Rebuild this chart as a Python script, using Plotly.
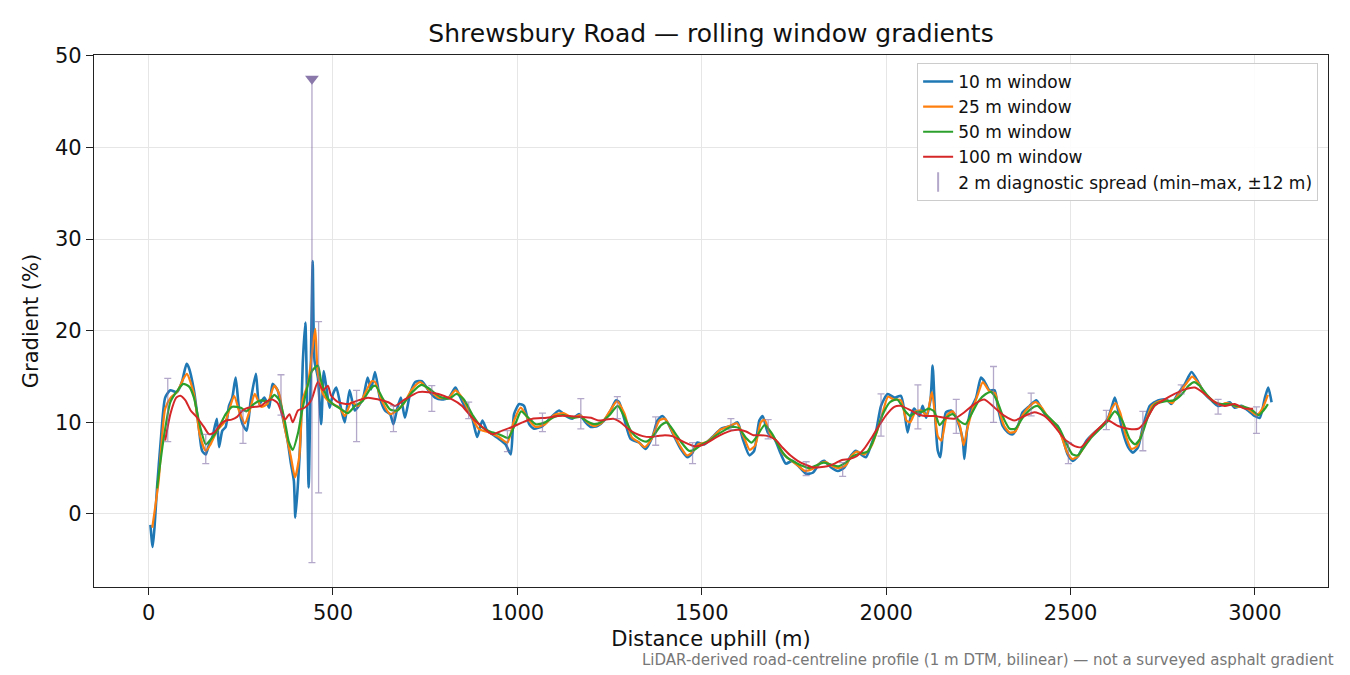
import plotly.graph_objects as go

# 10 m window (distance m, gradient %)
dist_10 = [5, 11, 16, 23, 33, 45, 59, 77, 91, 103, 109, 123, 136, 145, 155, 164, 173, 185, 191, 200,
           209, 218, 227, 236, 245, 255, 266, 277, 291, 300, 314, 327, 336, 350, 364, 377, 386, 394, 398, 405,
           412, 418, 425, 429, 434, 439, 445, 450, 459, 468, 475, 482, 491, 500, 509, 523, 532, 545, 559, 573,
           582, 594, 603, 614, 627, 641, 655, 664, 673, 684, 695, 709, 723, 741, 759, 777, 795, 814, 832, 841,
           859, 877, 891, 905, 918, 932, 950, 968, 982, 991, 1005, 1018, 1032, 1045, 1068, 1090, 1113, 1131, 1149, 1167,
           1185, 1199, 1217, 1235, 1253, 1267, 1276, 1289, 1307, 1330, 1348, 1366, 1380, 1393, 1407, 1425, 1443, 1461, 1475, 1488,
           1506, 1529, 1552, 1579, 1597, 1611, 1629, 1642, 1656, 1665, 1679, 1697, 1715, 1728, 1746, 1765, 1783, 1801, 1819, 1832,
           1850, 1869, 1887, 1905, 1918, 1932, 1945, 1959, 1973, 1986, 2004, 2022, 2040, 2049, 2058, 2067, 2076, 2090, 2099, 2108,
           2120, 2126, 2133, 2140, 2147, 2153, 2162, 2176, 2185, 2199, 2208, 2212, 2219, 2230, 2244, 2257, 2266, 2280, 2294, 2303,
           2316, 2330, 2343, 2357, 2370, 2389, 2407, 2420, 2434, 2452, 2465, 2479, 2492, 2506, 2520, 2543, 2565, 2583, 2601, 2611,
           2620, 2629, 2642, 2656, 2669, 2683, 2696, 2715, 2737, 2760, 2773, 2791, 2810, 2828, 2846, 2864, 2882, 2900, 2918, 2932,
           2945, 2963, 2981, 2999, 3013, 3027, 3036, 3045]
grad_10 = [-1.2, -3.6, -1.5, 2.9, 8.0, 12.7, 13.5, 13.3, 14.5, 16.4, 16.0, 13.5, 9.5, 6.9, 6.5, 7.6, 8.4, 10.4, 7.3, 9.1,
           9.5, 11.8, 12.7, 14.9, 11.6, 9.8, 9.1, 12.4, 15.3, 12.0, 12.7, 11.6, 14.2, 13.5, 10.5, 8.0, 5.5, 3.6, -0.4, 3.3,
           8.4, 16.4, 20.9, 14.2, 2.9, 13.5, 27.6, 16.7, 14.9, 9.8, 15.6, 13.8, 11.6, 13.1, 13.8, 11.3, 10.0, 13.5, 11.3, 12.0,
           12.7, 14.9, 13.6, 15.5, 12.7, 11.3, 10.9, 9.8, 11.3, 12.7, 10.5, 13.1, 14.4, 14.5, 13.5, 12.7, 12.5, 12.7, 13.8, 13.1,
           11.6, 10.5, 8.4, 10.2, 9.1, 8.7, 8.2, 7.6, 6.5, 10.9, 12.0, 11.8, 9.8, 9.3, 9.6, 10.5, 11.3, 10.7, 10.4, 10.9,
           10.0, 9.5, 9.6, 10.2, 11.3, 12.4, 12.2, 10.5, 8.2, 7.8, 7.1, 8.4, 10.2, 10.7, 10.0, 8.5, 7.1, 6.2, 6.7, 7.8,
           7.6, 8.4, 9.3, 9.6, 10.0, 8.2, 6.4, 6.9, 10.2, 10.7, 8.9, 8.2, 6.5, 5.5, 5.8, 5.1, 4.4, 4.5, 5.5, 5.8,
           5.1, 4.7, 5.1, 6.4, 6.9, 6.5, 6.2, 7.5, 9.1, 11.8, 13.1, 12.7, 12.9, 11.3, 8.9, 10.7, 11.5, 10.7, 11.8, 10.5,
           12.4, 16.2, 10.5, 6.9, 6.2, 8.7, 11.1, 11.3, 10.9, 9.5, 8.0, 6.0, 9.1, 11.5, 12.7, 14.9, 14.5, 13.5, 13.5, 11.6,
           9.6, 8.9, 8.7, 9.6, 11.1, 11.8, 12.4, 11.6, 10.7, 10.0, 9.6, 8.2, 6.5, 5.8, 6.3, 8.0, 8.9, 9.5, 10.4, 11.6,
           12.7, 11.3, 8.9, 7.3, 6.7, 7.3, 9.5, 11.8, 12.4, 12.5, 12.0, 13.1, 14.2, 15.5, 14.4, 13.1, 12.4, 11.8, 12.0, 12.2,
           11.6, 11.8, 11.3, 10.7, 10.5, 12.7, 13.8, 12.2]

# 25 m window
dist_25 = [10, 27, 45, 60, 77, 95, 104, 123, 139, 155, 168, 186, 209, 232, 245, 261, 275, 288, 305, 322,
           341, 355, 368, 386, 397, 409, 418, 432, 445, 452, 459, 473, 486, 500, 518, 532, 550, 568, 586, 605,
           614, 632, 655, 673, 691, 714, 736, 759, 786, 814, 832, 850, 877, 895, 923, 950, 973, 991, 1009, 1032,
           1050, 1075, 1100, 1125, 1150, 1170, 1190, 1210, 1230, 1250, 1270, 1290, 1310, 1330, 1345, 1365, 1385, 1400, 1420, 1440,
           1460, 1475, 1490, 1510, 1530, 1550, 1575, 1595, 1615, 1630, 1645, 1660, 1670, 1685, 1700, 1720, 1740, 1760, 1780, 1800,
           1820, 1835, 1855, 1870, 1890, 1905, 1920, 1940, 1960, 1975, 1990, 2005, 2020, 2040, 2055, 2065, 2080, 2095, 2110, 2124,
           2140, 2150, 2165, 2180, 2200, 2210, 2220, 2235, 2250, 2262, 2280, 2295, 2305, 2320, 2335, 2350, 2370, 2390, 2405, 2420,
           2440, 2460, 2475, 2490, 2505, 2520, 2535, 2555, 2580, 2600, 2612, 2622, 2635, 2650, 2665, 2680, 2700, 2720, 2740, 2760,
           2775, 2795, 2815, 2830, 2848, 2865, 2885, 2905, 2920, 2935, 2950, 2970, 2990, 3005, 3020, 3035]
grad_25 = [-1.5, 3.5, 11.5, 12.7, 13.3, 14.8, 15.3, 13.1, 8.6, 6.9, 7.6, 9.1, 10.2, 12.9, 11.3, 9.9, 11.4, 13.1, 11.7, 12.0,
           14.0, 13.0, 9.7, 6.2, 4.0, 6.4, 12.5, 14.2, 18.2, 20.2, 15.3, 13.1, 12.4, 12.0, 11.6, 10.7, 12.2, 11.8, 13.1, 14.5,
           14.4, 12.4, 10.9, 11.3, 12.0, 13.6, 14.4, 13.6, 12.7, 12.7, 13.5, 12.7, 10.5, 9.3, 8.9, 8.4, 7.8, 10.2, 11.6, 10.2,
           9.5, 9.8, 10.8, 11.0, 10.5, 10.8, 10.0, 9.6, 10.0, 11.2, 12.3, 11.0, 8.4, 7.8, 7.3, 8.3, 10.2, 10.4, 9.0, 7.5,
           6.4, 6.8, 7.6, 7.8, 8.4, 9.2, 9.6, 9.9, 8.3, 7.0, 7.5, 10.0, 10.3, 8.8, 8.1, 6.6, 5.9, 5.3, 4.7, 4.9,
           5.5, 5.7, 5.2, 5.0, 5.3, 6.3, 6.8, 6.5, 7.4, 9.0, 11.0, 12.8, 12.5, 12.4, 10.2, 10.0, 11.2, 11.3, 10.8, 13.3,
           8.5, 8.0, 10.8, 11.2, 9.6, 7.5, 9.3, 11.5, 13.2, 14.4, 13.4, 13.2, 11.5, 9.6, 8.9, 9.0, 10.8, 11.8, 12.2, 11.7,
           10.5, 9.8, 8.5, 6.8, 6.0, 6.3, 7.2, 8.5, 9.4, 10.3, 11.5, 12.1, 11.0, 8.5, 7.1, 7.4, 9.6, 11.8, 12.3, 12.4,
           12.1, 13.2, 14.3, 15.0, 14.2, 13.1, 12.4, 11.9, 12.1, 12.0, 11.7, 11.7, 11.2, 10.8, 11.5, 13.0]

# 50 m window
dist_50 = [23, 40, 59, 77, 94, 110, 123, 140, 155, 170, 190, 209, 227, 250, 265, 285, 305, 325, 341, 355,
           370, 380, 391, 405, 415, 432, 443, 459, 468, 486, 500, 520, 540, 560, 580, 600, 615, 635, 655, 675,
           690, 715, 740, 760, 790, 815, 835, 855, 880, 900, 925, 950, 975, 995, 1010, 1030, 1050, 1075, 1100, 1125,
           1150, 1170, 1190, 1210, 1230, 1250, 1272, 1290, 1310, 1330, 1350, 1370, 1390, 1405, 1425, 1445, 1465, 1480, 1500, 1520,
           1540, 1560, 1580, 1600, 1620, 1635, 1650, 1670, 1690, 1710, 1730, 1750, 1770, 1790, 1810, 1830, 1850, 1870, 1890, 1910,
           1930, 1950, 1970, 1990, 2010, 2030, 2050, 2065, 2080, 2100, 2115, 2130, 2145, 2160, 2180, 2200, 2215, 2230, 2250, 2270,
           2285, 2300, 2320, 2335, 2350, 2370, 2390, 2410, 2430, 2450, 2470, 2490, 2505, 2520, 2535, 2555, 2580, 2600, 2620, 2640,
           2660, 2675, 2690, 2710, 2730, 2755, 2780, 2800, 2820, 2835, 2850, 2870, 2890, 2910, 2930, 2950, 2970, 2990, 3010, 3025,
           3035]
grad_50 = [2.8, 8.0, 12.2, 13.4, 14.2, 13.9, 12.7, 9.5, 7.6, 8.2, 9.4, 10.9, 11.7, 11.6, 11.2, 12.0, 12.4, 12.3, 13.0, 12.4,
           10.0, 7.9, 7.0, 8.8, 11.0, 14.1, 15.6, 16.2, 14.5, 12.6, 12.0, 11.5, 11.0, 11.8, 12.3, 13.6, 14.0, 12.6, 11.4, 11.3,
           12.0, 13.3, 14.1, 13.7, 12.8, 12.6, 13.1, 12.5, 10.7, 9.6, 9.0, 8.7, 8.3, 9.9, 11.2, 10.5, 9.8, 10.0, 10.6, 10.8,
           10.5, 10.6, 10.1, 9.8, 10.1, 10.8, 11.8, 10.6, 8.9, 8.2, 7.9, 8.6, 9.7, 10.0, 9.0, 7.8, 6.9, 7.0, 7.6, 8.0,
           8.6, 9.1, 9.5, 9.4, 8.3, 7.8, 8.5, 9.7, 8.8, 7.3, 6.2, 5.7, 5.3, 5.0, 5.3, 5.6, 5.4, 5.2, 5.6, 6.3,
           6.6, 6.8, 8.5, 10.8, 12.2, 12.5, 11.3, 10.7, 11.1, 11.2, 11.5, 11.2, 9.7, 10.4, 10.9, 10.1, 9.8, 10.8, 12.3, 13.1,
           13.3, 12.4, 10.3, 9.3, 9.3, 10.5, 11.4, 11.8, 11.0, 10.2, 9.3, 7.6, 6.5, 6.4, 7.2, 8.3, 9.3, 10.1, 11.2, 10.2,
           8.2, 7.6, 8.3, 10.6, 12.0, 12.3, 12.4, 13.0, 14.0, 14.4, 14.0, 13.0, 12.2, 12.0, 12.0, 11.8, 11.7, 11.4, 10.8, 11.4,
           12.0]

# 100 m window
dist_100 = [45, 59, 75, 86, 100, 114, 130, 150, 164, 178, 195, 210, 225, 240, 255, 270, 290, 305, 320, 335,
            350, 362, 370, 382, 391, 405, 423, 441, 459, 473, 486, 495, 514, 541, 568, 595, 623, 650, 668, 695,
            732, 759, 786, 823, 850, 877, 905, 932, 959, 986, 1014, 1041, 1080, 1110, 1140, 1170, 1200, 1220, 1240, 1260,
            1280, 1300, 1320, 1340, 1360, 1380, 1400, 1420, 1440, 1460, 1480, 1500, 1520, 1540, 1560, 1580, 1600, 1620, 1640, 1660,
            1680, 1700, 1720, 1740, 1760, 1780, 1800, 1820, 1840, 1860, 1880, 1900, 1920, 1940, 1960, 1980, 2000, 2022, 2040, 2067,
            2085, 2104, 2131, 2158, 2185, 2212, 2239, 2266, 2294, 2321, 2348, 2375, 2402, 2429, 2456, 2483, 2511, 2529, 2556, 2583,
            2601, 2629, 2656, 2683, 2701, 2728, 2755, 2782, 2810, 2837, 2864, 2891, 2918, 2945, 2972, 2995]
grad_100 = [8.0, 10.9, 12.7, 12.9, 12.4, 11.3, 10.6, 9.5, 8.7, 8.9, 9.8, 10.2, 10.3, 10.6, 11.3, 11.6, 11.7, 11.8, 12.3, 12.5,
            12.1, 10.9, 10.3, 10.9, 10.0, 11.3, 11.6, 12.4, 14.4, 13.5, 14.0, 12.9, 12.2, 12.0, 12.4, 12.7, 12.5, 12.2, 11.8, 12.5,
            13.3, 13.3, 13.1, 12.5, 11.8, 10.5, 9.5, 8.7, 9.1, 9.5, 10.0, 10.4, 10.5, 10.7, 10.7, 10.6, 10.5, 10.2, 10.3, 10.4,
            10.0, 9.3, 8.8, 8.5, 8.4, 8.5, 8.6, 8.5, 8.1, 7.7, 7.4, 7.5, 7.9, 8.4, 8.8, 9.1, 9.2, 9.0, 8.6, 8.6,
            8.5, 8.1, 7.2, 6.4, 5.8, 5.4, 5.1, 5.1, 5.2, 5.5, 5.9, 6.0, 6.3, 7.1, 8.3, 9.6, 10.8, 11.7, 11.8, 11.3,
            10.9, 10.7, 10.7, 10.5, 10.4, 11.1, 12.0, 12.5, 11.6, 10.7, 10.2, 10.7, 11.1, 10.7, 9.6, 8.2, 7.4, 7.3, 8.5, 9.6,
            10.2, 9.6, 9.3, 9.3, 10.0, 11.8, 12.5, 13.1, 13.6, 13.8, 13.1, 12.2, 11.8, 12.0, 11.5, 11.5]

# 2 m diagnostic spread (min-max within +/-12 m)
spread_x = [52, 155, 256, 359, 443, 461, 564, 664, 768, 868, 973, 1068, 1172, 1271, 1375, 1475, 1579, 1680, 1783, 1882,
            1986, 2086, 2190, 2291, 2393, 2494, 2597, 2696, 2800, 2900, 3004]
spread_lo = [7.9, 5.5, 7.7, 10.8, -5.3, 2.3, 7.9, 9.0, 11.2, 10.4, 6.8, 9.0, 9.3, 10.4, 7.5, 5.5, 9.2, 8.2, 4.2, 4.1,
             8.5, 9.3, 8.8, 10.0, 10.7, 5.5, 9.2, 6.9, 13.1, 10.9, 8.8]
spread_hi = [14.8, 8.7, 11.2, 15.2, 47.5, 21.0, 13.5, 11.8, 14.0, 12.2, 9.1, 11.0, 12.6, 12.8, 10.6, 7.8, 10.4, 10.3, 5.7, 5.6,
             13.1, 14.1, 12.5, 16.1, 13.2, 7.8, 11.3, 11.2, 14.1, 12.5, 11.7]
clip_at = 47.5  # spreads reaching this are clipped and flagged with a marker

windows = [
    ("10 m window", dist_10, grad_10, "#1f77b4", 2.6),
    ("25 m window", dist_25, grad_25, "#ff7f0e", 2.2),
    ("50 m window", dist_50, grad_50, "#2ca02c", 2.2),
    ("100 m window", dist_100, grad_100, "#d62728", 2.0),
]

spread_col = "rgba(128,110,165,0.6)"

fig = go.Figure()
for name, xs, ys, col, w in windows:
    fig.add_trace(go.Scatter(x=xs, y=ys, mode="lines", name=name,
                             line=dict(color=col, width=w, shape="spline", smoothing=0.6)))

mid = [(a + b) / 2 for a, b in zip(spread_lo, spread_hi)]
half = [(b - a) / 2 for a, b in zip(spread_lo, spread_hi)]
fig.add_trace(go.Scatter(x=spread_x, y=mid, mode="markers", showlegend=False, hoverinfo="skip",
                         marker=dict(size=1, opacity=0),
                         error_y=dict(type="data", array=half, symmetric=True,
                                      color=spread_col, thickness=1.3, width=3.5)))
clip_x = [x for x, h in zip(spread_x, spread_hi) if h >= clip_at]
clip_y = [h for h in spread_hi if h >= clip_at]
fig.add_trace(go.Scatter(x=clip_x, y=clip_y, mode="markers", showlegend=False,
                         marker=dict(symbol="triangle-down", size=12, color="#8a78aa")))
# legend entry for the spread bars
fig.add_trace(go.Scatter(x=[None], y=[None], mode="markers",
                         name="2 m diagnostic spread (min–max, ±12 m)",
                         marker=dict(symbol="line-ns-open", size=14, color=spread_col,
                                     line=dict(width=2, color=spread_col))))

axis_common = dict(showline=True, mirror=True, linecolor="#222", linewidth=1.3,
                   ticks="outside", ticklen=7, tickwidth=1.3, tickcolor="#222",
                   showgrid=True, gridcolor="#e6e6e6", gridwidth=1.2, zeroline=False,
                   tickfont=dict(size=21, color="#111"))

# the page puts the figure 8 px in from the top-left corner, margins allow for that
fig.update_layout(
    width=1350, height=675,
    margin=dict(l=86, r=30, t=47, b=96),
    paper_bgcolor="white", plot_bgcolor="white",
    font=dict(family="DejaVu Sans", color="#111"),
    title=dict(text="Shrewsbury Road — rolling window gradients", x=0.5, xref="paper",
               xanchor="center", y=0.962, yanchor="middle", font=dict(size=25, color="#111")),
    legend=dict(x=0.992, y=0.985, xanchor="right", yanchor="top",
                bgcolor="rgba(255,255,255,0.85)", bordercolor="#cccccc", borderwidth=1,
                font=dict(size=17, color="#111")),
    xaxis=dict(range=[-148, 3198], tickvals=[0, 500, 1000, 1500, 2000, 2500, 3000],
               title=dict(text="Distance uphill (m)", font=dict(size=21), standoff=6), **axis_common),
    yaxis=dict(range=[-7.97, 50.1], tickvals=[0, 10, 20, 30, 40, 50],
               title=dict(text="Gradient (%)", font=dict(size=21), standoff=10), **axis_common),
)

fig.add_annotation(text="LiDAR-derived road-centreline profile (1 m DTM, bilinear) — not a surveyed asphalt gradient",
                   xref="paper", yref="paper", x=1.0065, y=-0.137, xanchor="right", yanchor="middle",
                   showarrow=False, font=dict(size=15, color="#777"))

fig.write_html("out.html")
